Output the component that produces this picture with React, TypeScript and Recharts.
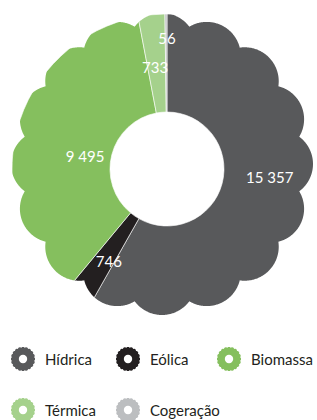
import { PieChart, Pie, Cell, Legend } from "recharts";

const categories = ["Hídrica", "Eólica", "Biomassa", "Térmica", "Cogeração"];
const values = [15357, 746, 9495, 733, 56];
const colors = ["#58595b", "#231f20", "#85bf5e", "#a5d18c", "#bcbec0"];

const data = categories.map((name, i) => ({ name, value: values[i] }));

const CX = 162;
const CY = 164;

// label placement tweaks (radius, angle shift in degrees) per slice
const LABEL_R = [103, 109, 83, 103, 131];
const LABEL_SHIFT = [10.3, 2.4, 5.4, 0.9, -0.4];

const RAD = Math.PI / 180;

function fmt(v: number) {
  return String(v).replace(/\B(?=(\d{3})+(?!\d))/g, " ");
}

// cloud-like outline: union of circles around the centre
function scallopPath(cx: number, cy: number, bumps: number, dist: number, rho: number, steps = 1440) {
  const step = (2 * Math.PI) / bumps;
  const pts: string[] = [];
  for (let s = 0; s < steps; s++) {
    const th = (s / steps) * 2 * Math.PI;
    let best = 0;
    for (let k = 0; k < bumps; k++) {
      let d = th - k * step;
      d = Math.atan2(Math.sin(d), Math.cos(d));
      const ds = dist * Math.sin(d);
      if (Math.abs(ds) > rho || Math.cos(d) < 0) continue;
      const t = dist * Math.cos(d) + Math.sqrt(rho * rho - ds * ds);
      if (t > best) best = t;
    }
    pts.push(`${(cx + best * Math.sin(th)).toFixed(2)},${(cy - best * Math.cos(th)).toFixed(2)}`);
  }
  return "M" + pts.join("L") + "Z";
}

const renderLabel = (props: any) => {
  const { cx, cy, midAngle, index, value } = props;
  const a = (midAngle + LABEL_SHIFT[index]) * RAD;
  const r = LABEL_R[index];
  const x = cx + r * Math.cos(-a);
  const y = cy + r * Math.sin(-a);
  return (
    <text
      x={x}
      y={y}
      fill="#ffffff"
      textAnchor="middle"
      dominantBaseline="central"
      fontSize={15}
      fontFamily="Lato, sans-serif"
    >
      {fmt(value)}
    </text>
  );
};

function LegendIcon({ color }: { color: string }) {
  return (
    <svg width={24} height={24} style={{ flex: "none" }}>
      <path d={scallopPath(12, 12, 20, 10.3, 1.9, 360)} fill={color} />
      <circle cx={12} cy={12} r={4.2} fill="#ffffff" />
    </svg>
  );
}

const renderLegend = () => (
  <div
    style={{
      display: "grid",
      gridTemplateColumns: "105px 101px auto",
      rowGap: 27,
      paddingLeft: 11,
      fontFamily: "Lato, sans-serif",
      fontSize: 15,
      color: "#231f20",
    }}
  >
    {categories.map((name, i) => (
      <div key={name} style={{ display: "flex", alignItems: "center", gap: 10 }}>
        <LegendIcon color={colors[i]} />
        <span>{name}</span>
      </div>
    ))}
  </div>
);

export default function App() {
  return (
    <div style={{ position: "relative", width: 317, height: 420 }}>
      <style>{"body{margin:0} .recharts-pie-sector{clip-path:url(#scallop)}"}</style>
      <svg width={0} height={0} style={{ position: "absolute" }}>
        <defs>
          <clipPath id="scallop">
            <path d={scallopPath(CX, CY, 16, 117, 34)} />
          </clipPath>
        </defs>
      </svg>
      <PieChart width={317} height={420}>
        <Pie
          data={data}
          dataKey="value"
          nameKey="name"
          cx={CX}
          cy={CY}
          innerRadius={57}
          outerRadius={155}
          startAngle={90}
          endAngle={-270}
          stroke="#ffffff"
          strokeWidth={0.6}
          label={renderLabel}
          labelLine={false}
          isAnimationActive={false}
        >
          {data.map((d, i) => (
            <Cell key={d.name} fill={colors[i]} />
          ))}
        </Pie>
        <Legend
          content={renderLegend}
          wrapperStyle={{ position: "absolute", top: 347, left: 0, width: 317 }}
        />
      </PieChart>
    </div>
  );
}
